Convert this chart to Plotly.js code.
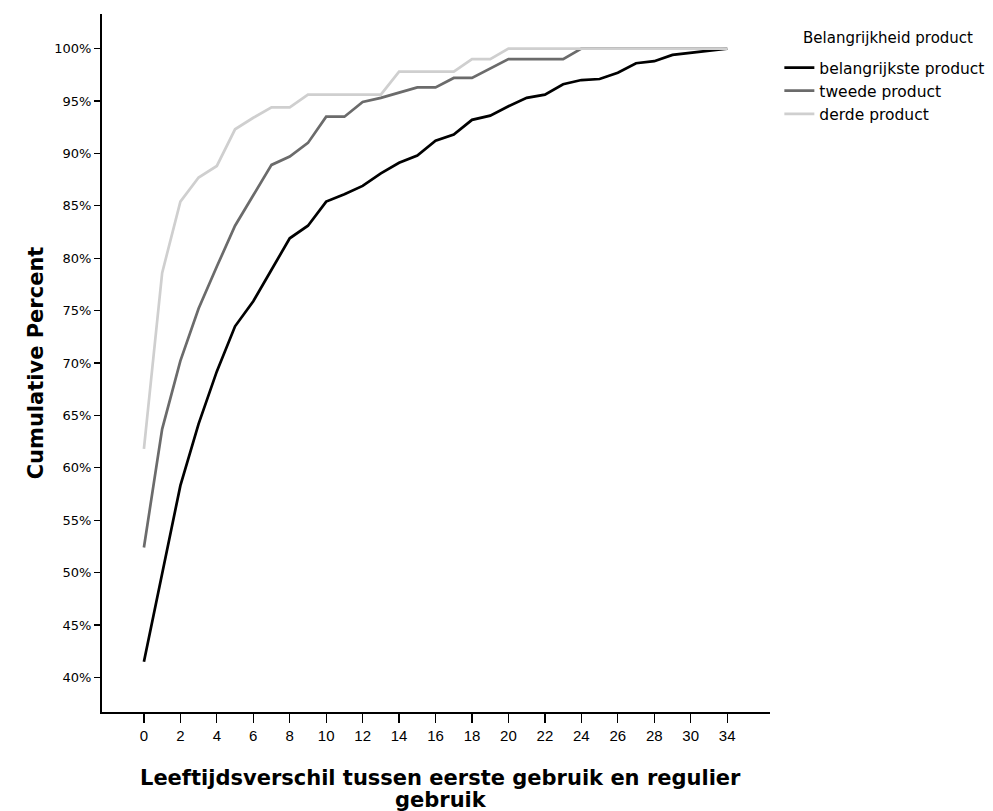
<!DOCTYPE html>
<html>
<head>
<meta charset="utf-8">
<script src="https://cdn.plot.ly/plotly-3.0.1.min.js"></script>
<style>
  html, body { margin: 0; padding: 0; background: #ffffff; }
  #chart { width: 993px; height: 811px; }
</style>
</head>
<body>
<div id="chart"></div>
<script>
// Categories of the x axis (age difference, years)
var categories = ['0','1','2','3','4','5','6','7','8','9','10','11','12','13','14','15','16','17','18','19','20','21','22','23','24','25','26','27','28','29','30','31','34'];
var tickLabels = ['0','2','4','6','8','10','12','14','16','18','20','22','24','26','28','30','34'];

// Cumulative percent per series
var belangrijkste = [41.5, 50.0, 58.3, 64.2, 69.2, 73.5, 75.9, 78.9, 81.9, 83.1, 85.4, 86.1, 86.9, 88.1, 89.1, 89.8, 91.2, 91.8, 93.2, 93.6, 94.5, 95.3, 95.6, 96.6, 97.0, 97.1, 97.7, 98.6, 98.8, 99.4, 99.6, 99.8, 100];
var tweede = [52.4, 63.7, 70.2, 75.2, 79.2, 83.1, 86.0, 88.9, 89.7, 91.0, 93.5, 93.5, 94.9, 95.3, 95.8, 96.3, 96.3, 97.2, 97.2, 98.1, 99.0, 99.0, 99.0, 99.0, 100, 100, 100, 100, 100, 100, 100, 100, 100];
var derde = [61.8, 78.6, 85.4, 87.7, 88.8, 92.3, 93.4, 94.4, 94.4, 95.6, 95.6, 95.6, 95.6, 95.6, 97.8, 97.8, 97.8, 97.8, 99.0, 99.0, 100, 100, 100, 100, 100, 100, 100, 100, 100, 100, 100, 100, 100];

var seriesNames = ['belangrijkste product', 'tweede product', 'derde product'];
var legendTitle = 'Belangrijkheid product';
var yTitle = 'Cumulative Percent';
var xTitleLines = ['Leeftijdsverschil tussen eerste gebruik en regulier', 'gebruik'];
var yTicks = [40, 45, 50, 55, 60, 65, 70, 75, 80, 85, 90, 95, 100];

var ARIAL = 'Liberation Sans, Arial, Helvetica, sans-serif';
var WIDE = 'DejaVu Sans, Verdana, sans-serif';

var traces = [
  { x: categories, y: belangrijkste, name: seriesNames[0], type: 'scatter', mode: 'lines',
    line: { color: '#000000', width: 2.7 } },
  { x: categories, y: tweede, name: seriesNames[1], type: 'scatter', mode: 'lines',
    line: { color: '#6b6b6b', width: 2.7 } },
  { x: categories, y: derde, name: seriesNames[2], type: 'scatter', mode: 'lines',
    line: { color: '#cfcfcf', width: 2.7 } }
];

var layout = {
  width: 993, height: 811,
  paper_bgcolor: '#ffffff', plot_bgcolor: '#ffffff',
  margin: { l: 102, r: 223, t: 14, b: 99, autoexpand: false },
  font: { family: ARIAL, color: '#000000' },
  showlegend: true,
  hovermode: false,
  xaxis: {
    type: 'category',
    categoryorder: 'array', categoryarray: categories,
    range: [-2.3, 34.35],
    tickmode: 'array', tickvals: tickLabels, ticktext: tickLabels,
    ticks: 'outside', ticklen: 9, tickwidth: 1.3, tickcolor: '#000000',
    showline: true, linecolor: '#000000', linewidth: 2,
    showgrid: false, zeroline: false,
    tickfont: { family: ARIAL, size: 15, color: '#000000' }
  },
  yaxis: {
    range: [36.7, 103.3],
    tickmode: 'array', tickvals: yTicks, ticktext: yTicks.map(function(v){ return v + '%'; }),
    ticks: 'outside', ticklen: 6, tickwidth: 1.3, tickcolor: '#000000',
    showline: true, linecolor: '#000000', linewidth: 2,
    showgrid: false, zeroline: false,
    tickfont: { family: WIDE, size: 13, color: '#000000' },
    title: { text: '<b>' + yTitle + '</b>', font: { family: WIDE, size: 21, color: '#000000' }, standoff: 5 }
  },
  legend: {
    x: 1.014, xanchor: 'left', y: 0.947, yanchor: 'top',
    bgcolor: 'rgba(0,0,0,0)', borderwidth: 0,
    font: { family: WIDE, size: 15.5, color: '#000000' },
    tracegroupgap: 0
  },
  annotations: [
    { xref: 'paper', yref: 'paper', x: (888 - 102) / 668, y: (712 - 38) / 698, xanchor: 'center', yanchor: 'middle',
      text: legendTitle, showarrow: false,
      font: { family: WIDE, size: 15, color: '#000000' } },
    { xref: 'paper', yref: 'paper', x: 0.507, y: (712 - 778) / 698, xanchor: 'center', yanchor: 'middle',
      text: '<b>' + xTitleLines[0] + '</b>', showarrow: false,
      font: { family: WIDE, size: 21, color: '#000000' } },
    { xref: 'paper', yref: 'paper', x: 0.507, y: (712 - 800) / 698, xanchor: 'center', yanchor: 'middle',
      text: '<b>' + xTitleLines[1] + '</b>', showarrow: false,
      font: { family: WIDE, size: 21, color: '#000000' } }
  ]
};

Plotly.newPlot('chart', traces, layout, { displayModeBar: false, staticPlot: true });
</script>
</body>
</html>
